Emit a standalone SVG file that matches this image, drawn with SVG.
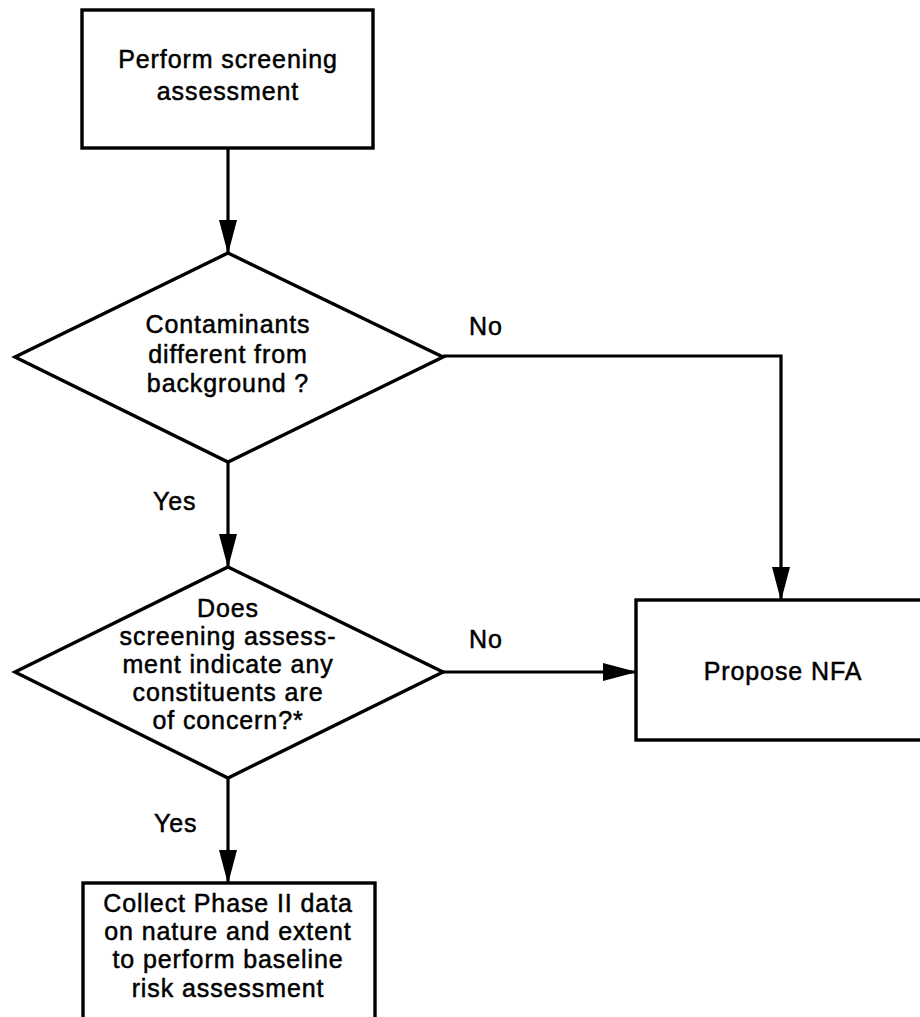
<svg xmlns="http://www.w3.org/2000/svg" width="920" height="1017" viewBox="0 0 920 1017">
  <style>
    .shape { fill: #ffffff; stroke: #000000; stroke-width: 3.4; stroke-linejoin: miter; }
    .link { fill: none; stroke: #000000; stroke-width: 3.2; }
    .label { font-family: "Liberation Sans", Arial, Helvetica, sans-serif; font-size: 25px; letter-spacing: 0.9px; fill: #000000; stroke: #000000; stroke-width: 0.5px; }
    .mid { text-anchor: middle; }
  </style>
  <defs>
    <marker id="arrowhead" markerUnits="userSpaceOnUse" markerWidth="34" markerHeight="18" viewBox="0 0 34 18" refX="33" refY="9" orient="auto">
      <path d="M0,0 L34,9 L0,18 Z" fill="#000000"/>
    </marker>
  </defs>
  <rect width="920" height="1017" fill="#ffffff"/>

  <!-- connectors -->
  <g id="connectors">
    <path class="link" d="M228,148 L228,253" marker-end="url(#arrowhead)"/>
    <path class="link" d="M228,462 L228,567" marker-end="url(#arrowhead)"/>
    <path class="link" d="M228,778 L228,883" marker-end="url(#arrowhead)"/>
    <path class="link" d="M443,356 L781,356 L781,600" marker-end="url(#arrowhead)"/>
    <path class="link" d="M443,672 L636,672" marker-end="url(#arrowhead)"/>
    <text class="label" x="469" y="335">No</text>
    <text class="label" x="469" y="648">No</text>
    <text class="label" x="153" y="510">Yes</text>
    <text class="label" x="154" y="832">Yes</text>
  </g>

  <!-- start box -->
  <g id="screening">
    <rect class="shape" x="82" y="10" width="291" height="138"/>
    <text class="label mid" x="228" y="68">Perform screening</text>
    <text class="label mid" x="228" y="100">assessment</text>
  </g>

  <!-- first decision -->
  <g id="background-check">
    <polygon class="shape" points="228,253 443,357 228,462 15,357"/>
    <text class="label mid" x="228" y="333">Contaminants</text>
    <text class="label mid" x="228" y="363">different from</text>
    <text class="label mid" x="228" y="392">background ?</text>
  </g>

  <!-- second decision -->
  <g id="concern-check">
    <polygon class="shape" points="228,567 443,672 228,778 15,672"/>
    <text class="label mid" x="228" y="617">Does</text>
    <text class="label mid" x="228" y="645">screening assess-</text>
    <text class="label mid" x="228" y="673">ment indicate any</text>
    <text class="label mid" x="228" y="701">constituents are</text>
    <text class="label mid" x="228" y="729">of concern?*</text>
  </g>

  <!-- no further action -->
  <g id="propose-nfa">
    <rect class="shape" x="636" y="600" width="300" height="140"/>
    <text class="label mid" x="783" y="680">Propose NFA</text>
  </g>

  <!-- phase II data collection -->
  <g id="phase-two">
    <rect class="shape" x="83" y="883" width="292" height="160"/>
    <text class="label mid" x="228" y="912">Collect Phase II data</text>
    <text class="label mid" x="228" y="940">on nature and extent</text>
    <text class="label mid" x="228" y="968">to perform baseline</text>
    <text class="label mid" x="228" y="997">risk assessment</text>
  </g>
</svg>
